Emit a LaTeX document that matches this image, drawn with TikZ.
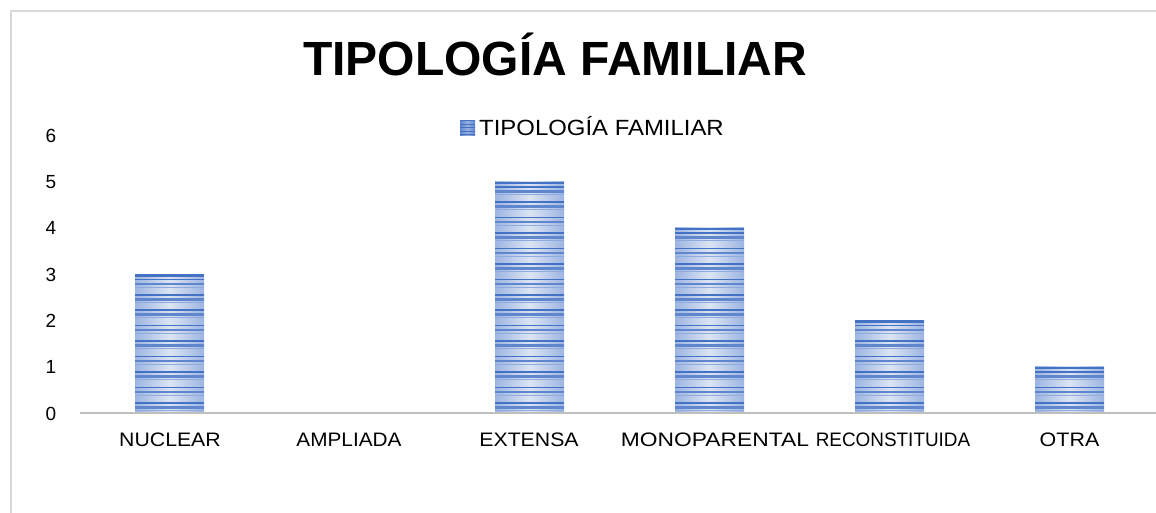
\documentclass[tikz,border=0pt]{standalone}
\usepackage{fontspec}
\setmainfont{Liberation Sans}
\begin{document}
\begin{tikzpicture}[x=1pt,y=-1pt,
  lbl/.style={font=\fontsize{19.5}{19.5}\selectfont, text=black, inner sep=0pt, anchor=base},
  ylbl/.style={font=\fontsize{19}{19}\selectfont, text=black, inner sep=0pt, anchor=base},
]
\definecolor{barblue}{HTML}{4472C4}
\definecolor{barlight}{HTML}{DCE4F3}
\definecolor{baredge}{HTML}{9DB5E2}
\definecolor{framegray}{HTML}{D9D9D9}
\definecolor{axisgray}{HTML}{BFBFBF}
\useasboundingbox (0,0) rectangle (1156,512);
\clip (0,0) rectangle (1156,512);
\fill[white] (0,0) rectangle (1156,512);
\draw[framegray, line width=2.2] (11,11) rectangle (1170,530);
% title
\node[font=\fontsize{48}{48}\selectfont\bfseries, inner sep=0pt, anchor=base] (title) at (555,75.7) {TIPOLOGÍA FAMILIAR};
% legend
\shade[left color=barblue!85, right color=barblue!85, middle color=barblue!55] (460,120) rectangle (475,135);
\foreach \yy in {120,123.5,127,130.5,133.5} \fill[barblue] (460,\yy) rectangle (475,\yy+1.4);
\node[font=\fontsize{22}{22}\selectfont, anchor=base west, inner sep=0pt] (legend) at (479,135) {\scalebox{1.087}[1]{TIPOLOGÍA FAMILIAR}};
% y labels
\foreach \v in {0,...,6} {
  \node[ylbl] (y\v) at (51,{420-46.3*\v}) {\v};
}
% bars
\foreach \c/\val in {0/3,2/5,3/4,4/2,5/1} {
  \pgfmathsetmacro{\xl}{135+180*\c}
  \pgfmathsetmacro{\xr}{\xl+69}
  \pgfmathsetmacro{\yt}{413-46.3*\val}
  \shade[left color=baredge, right color=baredge, middle color=barlight] (\xl,\yt) rectangle (\xr,413);
  \fill[barblue] (\xl,\yt) rectangle (\xr,\yt+2.5);
  \pgfmathsetmacro{\n}{int(floor((413-\yt)/15.43)-1)}
  \foreach \k in {0,...,\n} {
    \pgfmathsetmacro{\ys}{\yt+15.43*\k}
    \fill[barblue] (\xl,\ys+4.5) rectangle (\xr,\ys+6);
    \fill[barblue!85] (\xl,\ys+8.5) rectangle (\xr,\ys+11);
    \fill[barblue!60] (\xl,\ys+12.5) rectangle (\xr,\ys+13.5);
  }
}
% axis
\draw[axisgray, line width=2.5] (80,413) -- (1160,413);
% category labels
\foreach \c/\x/\s/\t in {0/170/1.09/NUCLEAR,1/349/1.065/AMPLIADA,2/529/1.09/EXTENSA,3/715/1.17/MONOPARENTAL,4/893/0.97/RECONSTITUIDA,5/1069.5/1.1/OTRA} {
  \node[lbl] (cat\c) at (\x,446.7) {\scalebox{\s}[1]{\t}};
}
\end{tikzpicture}
\end{document}
